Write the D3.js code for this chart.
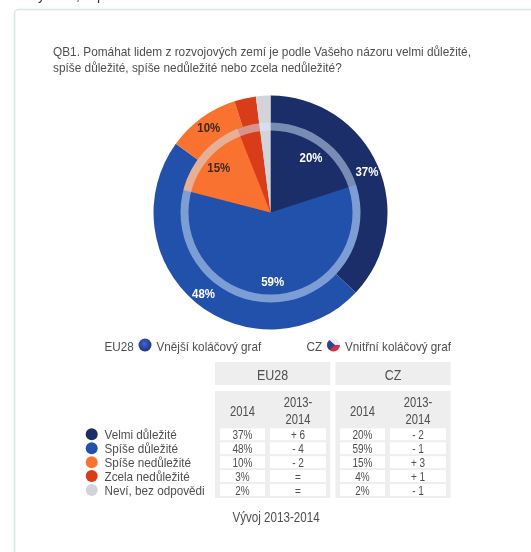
<!DOCTYPE html>
<html>
<head>
<meta charset="utf-8">
<script src="https://cdn.jsdelivr.net/npm/d3@7"></script>
<style>
	html, body { margin: 0; padding: 0; background: #fff; overflow: hidden; }
	svg { display: block; font-family: "Liberation Sans", Arial, sans-serif; filter: blur(0.4px); }
</style>
</head>
<body>
<div id="vis-container"></div>
<script>
// data
var categories = ["Velmi důležité", "Spíše důležité", "Spíše nedůležité", "Zcela nedůležité", "Neví, bez odpovědi"];
var eu28Values = [37, 48, 10, 3, 2];
var czValues = [20, 59, 15, 4, 2];
var eu28Change = ["+ 6", "- 4", "- 2", "=", "="];
var czChange = ["- 2", "- 1", "+ 3", "+ 1", "- 1"];
var colors = ["#1b2e69", "#2251ab", "#f9722f", "#d93c18", "#d3d4d9"];
var labelColors = ["#ffffff", "#ffffff", "#3b2a1e", "#ffffff", "#ffffff"];
var titleLines = [
	"QB1. Pomáhat lidem z rozvojových zemí je podle Vašeho názoru velmi důležité,",
	"spíše důležité, spíše nedůležité nebo zcela nedůležité?"
];
var groups = ["EU28", "CZ"];
var columnHeads = ["2014", ["2013-", "2014"], "2014", ["2013-", "2014"]];

// svg container
var width = 531;
var height = 552;
var textcolor = "#4f4f4f";

var svg = d3.select("#vis-container")
	.append("svg")
	.attr("width", width)
	.attr("height", height);

// the reference text is tall and narrow, squeeze it sideways
function squeeze(selection, k) {
	selection.each(function() {
		d3.select(this)
			.attr("textLength", this.getComputedTextLength() * k)
			.attr("lengthAdjust", "spacingAndGlyphs");
	});
}

// cut off text of the page above the card
svg.selectAll(".cut")
	.data([["y", 38], [",", 76], ["p", 97]])
	.enter()
	.append("text")
	.attr("x", function(d) { return d[1]; })
	.attr("y", 0)
	.attr("font-size", 14)
	.attr("fill", "#333")
	.text(function(d) { return d[0]; });

// card
svg.append("rect")
	.attr("x", 14.5)
	.attr("y", 9.5)
	.attr("width", 560)
	.attr("height", 600)
	.attr("rx", 4)
	.attr("fill", "#fff")
	.attr("stroke", "#dbe7e6")
	.attr("stroke-width", 1.5);

svg.append("g")
	.selectAll("text")
	.data(titleLines)
	.enter()
	.append("text")
	.attr("x", 53)
	.attr("y", function(d, i) { return 56 + i * 15.5; })
	.attr("font-size", 13)
	.attr("fill", textcolor)
	.text(function(d) { return d; })
	.call(squeeze, 0.91);

// pies
var pie = d3.pie().sort(null).value(function(d) { return d; });
var outerRadius = 117;
var innerRadius = 90;
var ringWidth = 8;

var chart = svg.append("g")
	.attr("transform", "translate(270.5,212.5)");

function drawSlices(values, radius) {
	var arc = d3.arc().innerRadius(0).outerRadius(radius);
	chart.append("g")
		.selectAll("path")
		.data(pie(values))
		.enter()
		.append("path")
		.attr("d", arc)
		.attr("fill", function(d, i) { return colors[i]; });
}

function drawLabels(values, radius) {
	var arc = d3.arc().innerRadius(radius).outerRadius(radius);
	chart.append("g")
		.selectAll("text")
		.data(pie(values).filter(function(d) { return d.value >= 10; }))
		.enter()
		.append("text")
		.attr("transform", function(d) { return "translate(" + arc.centroid(d) + ")"; })
		.attr("text-anchor", "middle")
		.attr("dy", "0.36em")
		.attr("font-size", 13.5)
		.attr("font-weight", "bold")
		.attr("fill", function(d) { return labelColors[d.index]; })
		.text(function(d) { return d.value + "%"; })
		.call(squeeze, 0.85);
}

drawSlices(eu28Values, outerRadius);
drawSlices(czValues, innerRadius);

// ring between the two pies
chart.append("path")
	.attr("d", d3.arc().innerRadius(innerRadius - ringWidth).outerRadius(innerRadius).startAngle(0).endAngle(2 * Math.PI)())
	.attr("fill", "#d8ecff")
	.attr("fill-opacity", 0.5);

drawLabels(eu28Values, 105);
drawLabels(czValues, 69);

// flags legend
var defs = svg.append("defs");
var eugrad = defs.append("radialGradient")
	.attr("id", "eugrad")
	.attr("cx", "45%")
	.attr("cy", "40%")
	.attr("r", "60%");
eugrad.append("stop").attr("offset", "0%").attr("stop-color", "#3f66d6");
eugrad.append("stop").attr("offset", "100%").attr("stop-color", "#1f2f78");

defs.append("clipPath")
	.attr("id", "czclip")
	.append("circle")
	.attr("cx", 333.5)
	.attr("cy", 345)
	.attr("r", 6.5);

var legendy = 351;
var legendtexts = [["EU28", 104.5], ["Vnější koláčový graf", 156.5], ["CZ", 306.5], ["Vnitřní koláčový graf", 345]];
svg.append("g")
	.selectAll("text")
	.data(legendtexts)
	.enter()
	.append("text")
	.attr("x", function(d) { return d[1]; })
	.attr("y", legendy)
	.attr("font-size", 13)
	.attr("fill", textcolor)
	.text(function(d) { return d[0]; })
	.call(squeeze, 0.9);

svg.append("circle")
	.attr("cx", 145)
	.attr("cy", 345)
	.attr("r", 6.5)
	.attr("fill", "url(#eugrad)");

var czflag = svg.append("g").attr("clip-path", "url(#czclip)");
czflag.append("rect").attr("x", 326).attr("y", 338).attr("width", 15).attr("height", 7).attr("fill", "#eceef4");
czflag.append("rect").attr("x", 326).attr("y", 345).attr("width", 15).attr("height", 8).attr("fill", "#d8303a");
czflag.append("path").attr("d", "M326,337L335,345L326,353Z").attr("fill", "#27478f");

// table
var rowscale = d3.scaleBand().domain(d3.range(categories.length)).range([427.3, 497]);
var groupx = d3.scaleOrdinal().domain(groups).range([215, 335.5]);
var groupwidth = 115.2;
var colx = d3.scaleOrdinal().domain(d3.range(4)).range([220, 270, 340, 390]);
var colw = d3.scaleOrdinal().domain(d3.range(4)).range([45, 56, 45, 56]);

var table = svg.append("g");

groups.forEach(function(g) {
	table.append("rect")
		.attr("x", groupx(g))
		.attr("y", 362)
		.attr("width", groupwidth)
		.attr("height", 23)
		.attr("fill", "#eeeeee");
	table.append("rect")
		.attr("x", groupx(g))
		.attr("y", 391)
		.attr("width", groupwidth)
		.attr("height", 107)
		.attr("fill", "#eeeeee");
	table.append("text")
		.attr("x", groupx(g) + groupwidth / 2)
		.attr("y", 379.5)
		.attr("text-anchor", "middle")
		.attr("font-size", 15)
		.attr("fill", textcolor)
		.text(g)
		.call(squeeze, 0.83);
});

columnHeads.forEach(function(head, c) {
	var lines = Array.isArray(head) ? head : [head];
	var top = lines.length > 1 ? 406.5 : 416;
	lines.forEach(function(line, i) {
		table.append("text")
			.attr("x", colx(c) + colw(c) / 2)
			.attr("y", top + i * 17)
			.attr("text-anchor", "middle")
			.attr("font-size", 14)
			.attr("fill", textcolor)
			.text(line)
			.call(squeeze, 0.8);
	});
});

var columns = [
	eu28Values.map(function(v) { return v + "%"; }),
	eu28Change,
	czValues.map(function(v) { return v + "%"; }),
	czChange
];

columns.forEach(function(column, c) {
	var col = table.append("g");
	col.selectAll("rect")
		.data(column)
		.enter()
		.append("rect")
		.attr("x", colx(c))
		.attr("y", function(d, i) { return rowscale(i) + 1; })
		.attr("width", colw(c))
		.attr("height", rowscale.bandwidth() - 2)
		.attr("fill", "#fff");
	col.selectAll("text")
		.data(column)
		.enter()
		.append("text")
		.attr("x", colx(c) + colw(c) / 2)
		.attr("y", function(d, i) { return rowscale(i) + rowscale.bandwidth() / 2; })
		.attr("dy", "0.36em")
		.attr("text-anchor", "middle")
		.attr("font-size", 12.5)
		.attr("fill", textcolor)
		.text(function(d) { return d; })
		.call(squeeze, 0.8);
});

// category legend
var catlegend = svg.append("g");
catlegend.selectAll("circle")
	.data(categories)
	.enter()
	.append("circle")
	.attr("cx", 91.7)
	.attr("cy", function(d, i) { return rowscale(i) + rowscale.bandwidth() / 2; })
	.attr("r", 6)
	.attr("fill", function(d, i) { return colors[i]; });
catlegend.selectAll("text")
	.data(categories)
	.enter()
	.append("text")
	.attr("x", 104.5)
	.attr("y", function(d, i) { return rowscale(i) + rowscale.bandwidth() / 2; })
	.attr("dy", "0.36em")
	.attr("font-size", 13)
	.attr("fill", textcolor)
	.text(function(d) { return d; })
	.call(squeeze, 0.9);

svg.append("text")
	.attr("x", 276)
	.attr("y", 522)
	.attr("text-anchor", "middle")
	.attr("font-size", 14)
	.attr("fill", textcolor)
	.text("Vývoj 2013-2014")
	.call(squeeze, 0.83);
</script>
</body>
</html>
